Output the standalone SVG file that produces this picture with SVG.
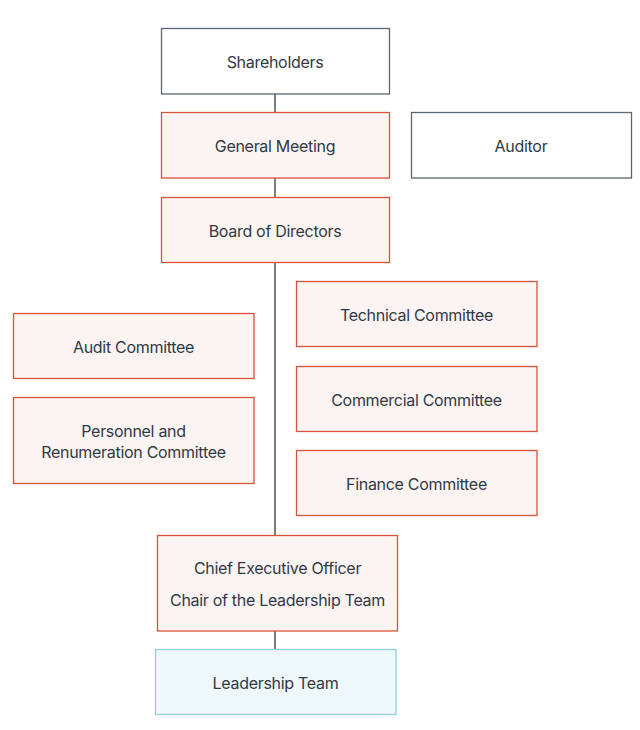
<svg xmlns="http://www.w3.org/2000/svg" width="640" height="730" viewBox="0 0 640 730">
<style>
text{font-family:Inter,"Noto Sans","Liberation Sans",sans-serif;font-size:16px;fill:#2f3a45;text-anchor:middle;letter-spacing:-0.3px}
.r{fill:#fcf4f2;stroke:#d9533a;stroke-width:1.3}
.g{fill:#ffffff;stroke:#5d6670;stroke-width:1.3}
.t{fill:#eff8fa;stroke:#8ed0dc;stroke-width:1.3}
.c{stroke:#3a3a3a;stroke-width:1.3;fill:none}
</style>
<rect width="640" height="730" fill="#ffffff"/>
<g id="connectors">
<line class="c" x1="275" y1="94" x2="275" y2="112"/>
<line class="c" x1="275" y1="178" x2="275" y2="197"/>
<line class="c" x1="275" y1="262" x2="275" y2="535"/>
<line class="c" x1="275" y1="631" x2="275" y2="649"/>
</g>
<g id="shareholders"><rect class="g" x="161.5" y="28.5" width="228" height="65.5"/><text x="275" y="68">Shareholders</text></g>
<g id="general-meeting"><rect class="r" x="161.5" y="112.5" width="228" height="65.5"/><text x="275" y="152">General Meeting</text></g>
<g id="auditor"><rect class="g" x="411.5" y="112.5" width="220" height="65.5"/><text x="521" y="152">Auditor</text></g>
<g id="board"><rect class="r" x="161.5" y="197.5" width="228" height="65"/><text x="275" y="237">Board of Directors</text></g>
<g id="technical"><rect class="r" x="296.5" y="281.5" width="240.5" height="65"/><text x="416.5" y="321">Technical Committee</text></g>
<g id="commercial"><rect class="r" x="296.5" y="366.5" width="240.5" height="65"/><text x="416.5" y="406">Commercial Committee</text></g>
<g id="finance"><rect class="r" x="296.5" y="450.5" width="240.5" height="65"/><text x="416.5" y="490">Finance Committee</text></g>
<g id="audit-committee"><rect class="r" x="13.5" y="313.5" width="240.5" height="65"/><text x="133.5" y="353">Audit Committee</text></g>
<g id="personnel"><rect class="r" x="13.5" y="397.5" width="240.5" height="86"/><text x="133.5" y="437">Personnel and</text><text x="133.5" y="458">Renumeration Committee</text></g>
<g id="ceo"><rect class="r" x="157.5" y="535.5" width="240" height="95.5"/><text x="277.5" y="574">Chief Executive Officer</text><text x="277.5" y="606">Chair of the Leadership Team</text></g>
<g id="leadership-team"><rect class="t" x="155.5" y="649.5" width="240.5" height="65"/><text x="275.5" y="689">Leadership Team</text></g>
</svg>
